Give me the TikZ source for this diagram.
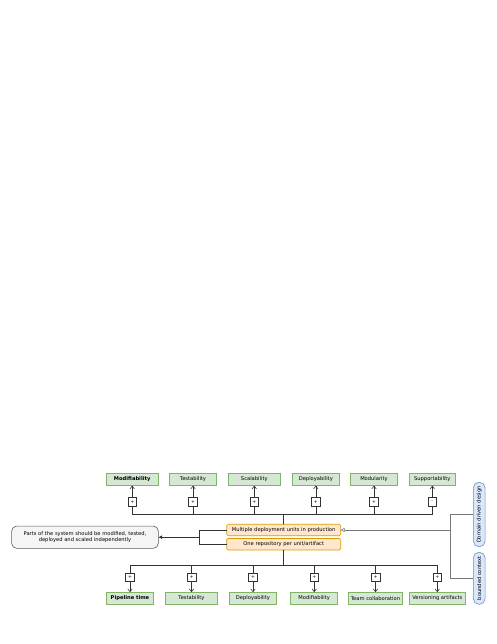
\documentclass[tikz,border=0pt]{standalone}
\usepackage{fontspec}
\setmainfont{DejaVu Sans}
\usetikzlibrary{arrows.meta}
\definecolor{gfill}{HTML}{D5E8D4}
\definecolor{gline}{HTML}{82B366}
\definecolor{ofill}{HTML}{FFE6CC}
\definecolor{oline}{HTML}{D79B00}
\definecolor{bfill}{HTML}{DAE8FC}
\definecolor{bline}{HTML}{6C8EBF}
\definecolor{pfill}{HTML}{F5F5F5}
\definecolor{dline}{HTML}{333333}
\definecolor{mline}{HTML}{777777}
\begin{document}
\begin{tikzpicture}[x=1bp,y=-1bp,
  every node/.style={inner sep=0pt,outer sep=0pt,font=\fontsize{5.2}{6.2}\selectfont,text=black},
  qual/.style={draw=gline,fill=gfill,line width=0.6bp,minimum height=12.2bp},
  unit/.style={draw=oline,fill=ofill,line width=0.6bp,rounded corners=1.5bp,minimum width=114bp,minimum height=11.5bp},
  sign/.style={draw=dline,fill=white,line width=0.6bp,minimum width=8.6bp,minimum height=8.6bp,font=\fontsize{4.6}{5}\selectfont},
  pill/.style={draw=bline,fill=bfill,line width=0.6bp,rounded corners=5.5bp,minimum width=11.7bp},
  conn/.style={draw=dline,line width=0.6bp},
  gconn/.style={draw=mline,line width=0.6bp},
  arr/.style={conn,-{Straight Barb[length=2.8bp,width=4.4bp]}},
]
\path[use as bounding box] (0,0) rectangle (497,644);

% top qualities
\node[qual,minimum width=52.3bp,font=\fontsize{5.2}{6.2}\selectfont\bfseries] (t1) at (132.2,479.5) {Modifiability};
\node[qual,minimum width=47.4bp] (t2) at (193,479.5) {Testability};
\node[qual,minimum width=52.7bp] (t3) at (254.3,479.5) {Scalability};
\node[qual,minimum width=47bp] (t4) at (315.8,479.5) {Deployability};
\node[qual,minimum width=47.4bp] (t5) at (374,479.5) {Modularity};
\node[qual,minimum width=46.7bp] (t6) at (432.3,479.5) {Supportability};

\node[sign] (tp1) at (132.2,501.7) {+};
\node[sign] (tp2) at (193,501.7) {+};
\node[sign] (tp3) at (254.3,501.7) {+};
\node[sign] (tp4) at (315.8,501.7) {+};
\node[sign] (tp5) at (374,501.7) {+};
\node[sign] (tp6) at (432.3,501.7) {-};

% central units
\node[unit] (m1) at (283.7,530) {Multiple deployment units in production};
\node[unit] (m2) at (283.7,544.2) {One repository per unit/artifact};

% left statement
\node[draw=dline!80,fill=pfill,line width=0.6bp,rounded corners=5bp,minimum width=146.6bp,minimum height=22.3bp,align=center] (goal) at (85,537.2) {Parts of the system should be modified, tested,\\deployed and scaled independently};

% bottom qualities
\node[sign] (bp1) at (130,577.2) {+};
\node[sign] (bp2) at (191.5,577.2) {+};
\node[sign] (bp3) at (253,577.2) {+};
\node[sign] (bp4) at (314.2,577.2) {+};
\node[sign] (bp5) at (375.5,577.2) {+};
\node[sign] (bp6) at (437.3,577.2) {+};

\node[qual,minimum width=46.6bp,font=\fontsize{5.2}{6.2}\selectfont\bfseries] (b1) at (130,598.3) {Pipeline time};
\node[qual,minimum width=52.4bp] (b2) at (191.5,598.3) {Testability};
\node[qual,minimum width=47.4bp] (b3) at (253,598.3) {Deployability};
\node[qual,minimum width=47bp] (b4) at (314.2,598.3) {Modifiability};
\node[qual,minimum width=53.5bp] (b5) at (375.5,598.3) {Team collaboration};
\node[qual,minimum width=56bp] (b6) at (437.3,598.3) {Versioning artifacts};

% right side concepts
\node[pill,minimum height=64.4bp] (ddd) at (479.2,514.5) {\rotatebox{90}{Domain driven design}};
\node[pill,minimum height=52bp] (bc) at (479.2,578.3) {\rotatebox{90}{bounded context}};

% junction coordinates
\coordinate (tbus) at (0,514.3);
\coordinate (bbus) at (0,565.3);
\coordinate (lj) at (199,537.2);
\coordinate (rj) at (450,530);

% top connectors
\foreach \i in {1,...,6}{
  \draw[conn] (m1.north) -- (m1.north|-tbus) -| (tp\i.south);
  \draw[arr] (tp\i.north) -- (t\i.south);
}
% bottom connectors
\foreach \i in {1,...,6}{
  \draw[conn] (m2.south) -- (m2.south|-bbus) -| (bp\i.north);
  \draw[arr] (bp\i.south) -- (b\i.north);
}
% left bracket
\draw[conn] (m1.west) -| (lj);
\draw[conn] (m2.west) -| (lj);
\draw[conn,-{Latex[length=3.8bp,width=3.8bp]}] (lj) -- (goal.east);
% right bracket
\draw[gconn] (ddd.west) -| (rj);
\draw[gconn] (bc.west) -| (rj);
\draw[gconn,-{Triangle[open,length=4bp,width=4.2bp]}] (rj) -- (m1.east);
\end{tikzpicture}
\end{document}
